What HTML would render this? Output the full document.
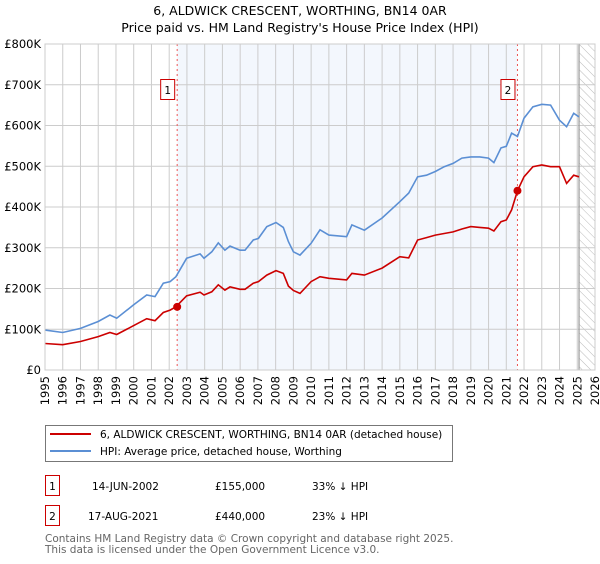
<!DOCTYPE html>
<html><head><meta charset="utf-8"><style>
body{margin:0;background:#fff;font-family:"DejaVu Sans","Liberation Sans",sans-serif;}
svg text{font-family:"DejaVu Sans","Liberation Sans",sans-serif;}
</style></head><body>
<svg id="chart" width="600" height="560" viewBox="0 0 600 560" xmlns="http://www.w3.org/2000/svg">
<defs>
<pattern id="hatch" width="6" height="6" patternUnits="userSpaceOnUse" patternTransform="rotate(-45)">
<line x1="0" y1="0" x2="0" y2="6" stroke="#bbb" stroke-width="1"/></pattern>
</defs>
<text x="300" y="15" text-anchor="middle" font-size="12.5" fill="#000">6, ALDWICK CRESCENT, WORTHING, BN14 0AR</text>
<text x="300" y="32" text-anchor="middle" font-size="12.5" fill="#000">Price paid vs. HM Land Registry's House Price Index (HPI)</text>
<g id="plot"></g>
<g>
<rect x="45.5" y="425.5" width="407" height="36" fill="#fff" stroke="#777"/>
<line x1="50" y1="434" x2="91" y2="434" stroke="#cc0000" stroke-width="2"/>
<text x="100" y="438" font-size="10.5">6, ALDWICK CRESCENT, WORTHING, BN14 0AR (detached house)</text>
<line x1="50" y1="451" x2="91" y2="451" stroke="#5b8fd4" stroke-width="2"/>
<text x="100" y="455" font-size="10.5">HPI: Average price, detached house, Worthing</text>
</g>
<g>
<rect x="45.5" y="475.5" width="14" height="20" fill="#fff" stroke="#cc0000"/>
<text x="52.5" y="490" text-anchor="middle" font-size="10.5">1</text>
<text x="92" y="490" font-size="10.5">14-JUN-2002</text>
<text x="215" y="490" font-size="10.5">£155,000</text>
<text x="312" y="490" font-size="10.5">33% ↓ HPI</text>
<rect x="45.5" y="505.5" width="14" height="20" fill="#fff" stroke="#cc0000"/>
<text x="52.5" y="520" text-anchor="middle" font-size="10.5">2</text>
<text x="88" y="520" font-size="10.5">17-AUG-2021</text>
<text x="215" y="520" font-size="10.5">£440,000</text>
<text x="312" y="520" font-size="10.5">23% ↓ HPI</text>
</g>
<text x="45" y="542" font-size="10.5" fill="#666">Contains HM Land Registry data © Crown copyright and database right 2025.</text>
<text x="45" y="553" font-size="10.5" fill="#666">This data is licensed under the Open Government Licence v3.0.</text>
</svg>
<script>
const dates=[1995.0,1996.0,1997.0,1998.0,1998.66,1999.04,2000.0,2000.73,2001.2,2001.67,2002.05,2002.38,2002.98,2003.74,2003.96,2004.4,2004.77,2005.14,2005.43,2005.99,2006.27,2006.74,2007.03,2007.5,2008.02,2008.43,2008.72,2009.0,2009.37,2010.0,2010.5,2011.0,2012.0,2012.3,2013.0,2014.0,2015.0,2015.5,2016.0,2016.5,2017.0,2017.5,2018.0,2018.5,2019.0,2019.5,2020.0,2020.3,2020.7,2021.0,2021.3,2021.63,2022.0,2022.5,2023.0,2023.5,2024.0,2024.4,2024.8,2025.1];
const hpiValues=[98,92,102,119,135,127,160,184,180,213,217,229,274,285,274,290,312,294,304,294,294,319,323,352,362,350,315,290,282,311,344,331,327,356,343,373,413,434,474,478,487,499,507,520,523,523,520,509,545,549,581,573,618,646,652,650,613,597,630,621];
const priceValues=[65,62,70,82,92,87,109,126,121,141,147,155,182,191,184,192,209,196,204,198,198,213,217,233,244,237,206,195,188,217,229,225,221,237,233,250,278,275,319,325,331,335,339,346,352,350,348,341,364,368,393,440,474,499,503,499,499,458,478,474];
const yTicks=[0,100,200,300,400,500,600,700,800];
const yTickLabels=["£0","£100K","£200K","£300K","£400K","£500K","£600K","£700K","£800K"];
const xTicks=[1995,1996,1997,1998,1999,2000,2001,2002,2003,2004,2005,2006,2007,2008,2009,2010,2011,2012,2013,2014,2015,2016,2017,2018,2019,2020,2021,2022,2023,2024,2025,2026];
const saleDates=[2002.45,2021.63];
const salePrices=[155,440];
const saleLabels=["1","2"];
const dataEnd=2025.1;

const L=45,R=595,T=44,B=370,X0=1995,X1=2026,YMAX=800;
const NS="http://www.w3.org/2000/svg";
const xs=v=>L+(v-X0)/(X1-X0)*(R-L);
const ys=v=>B-v/YMAX*(B-T);
const g=document.getElementById('plot');
function mk(tag,attrs){const e=document.createElementNS(NS,tag);for(const k in attrs)e.setAttribute(k,attrs[k]);g.appendChild(e);return e;}

let r=mk('rect',{x:xs(saleDates[0]),y:T,width:xs(saleDates[1])-xs(saleDates[0]),height:B-T,fill:'#eef3fc',opacity:0.7});


let h=mk('rect',{x:xs(dataEnd),y:T,width:R-xs(dataEnd),height:B-T,fill:'url(#hatch)'});



yTicks.forEach((v,i)=>{
  let l=mk('line',{x1:L,x2:R,y1:ys(v),y2:ys(v),stroke:'#cccccc','stroke-width':1});
  
  
  let t=mk('text',{x:L-4,y:ys(v)+4,'text-anchor':'end','font-size':'11.5'});
  t.textContent=yTickLabels[i];
  
  
});
xTicks.forEach(v=>{
  let l=mk('line',{x1:xs(v),x2:xs(v),y1:T,y2:B,stroke:'#cccccc','stroke-width':1});
  
  
  let t=mk('text',{x:0,y:0,'text-anchor':'end','font-size':'11.5',transform:`translate(${xs(v)+4},${B+6}) rotate(-90)`});
  t.textContent=v;
  
  
});
let ve=mk('line',{x1:xs(dataEnd),x2:xs(dataEnd),y1:T,y2:B,stroke:'#999','stroke-width':1.2});



saleDates.forEach((d,i)=>{
  let l=mk('line',{x1:xs(d),x2:xs(d),y1:T,y2:B,stroke:'#ee5555','stroke-width':1,'stroke-dasharray':'2,3'});
  
  
  let b=mk('rect',{x:xs(d)-16.5,y:79.5,width:14,height:20,fill:'#fff',stroke:'#cc0000'});
  
  
  let t=mk('text',{x:xs(d)-9.5,y:94,'text-anchor':'middle','font-size':'10.5'});
  t.textContent=saleLabels[i];
  
  
});

const pts=a=>dates.map((d,i)=>xs(d).toFixed(1)+','+ys(a[i]).toFixed(1)).join(' ');
let hp=mk('polyline',{points:pts(hpiValues),fill:'none',stroke:'#5b8fd4','stroke-width':1.6});


let pp=mk('polyline',{points:pts(priceValues),fill:'none',stroke:'#cc0000','stroke-width':1.6});


saleDates.forEach((d,i)=>{
  let c=mk('circle',{cx:xs(d),cy:ys(salePrices[i]),r:4,fill:'#cc0000'});
  
  
});
let fr=mk('rect',{x:L,y:T,width:R-L,height:B-T,fill:'none',stroke:'#cccccc'});


</script>
</body></html>
